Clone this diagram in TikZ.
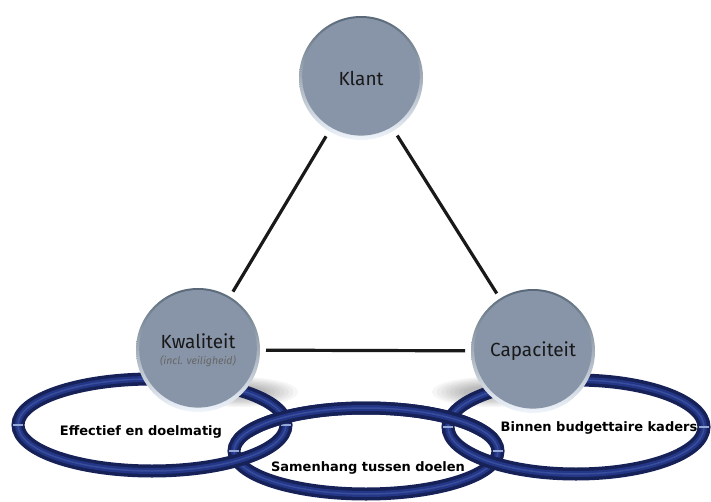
\documentclass[tikz,border=0pt]{standalone}
\usepackage{fontspec}
\setmainfont{DejaVu Sans}
\newfontfamily\ballfont{Fira Sans}
\newfontfamily\ringfont{DejaVu Sans}
\definecolor{ballface}{RGB}{136,149,168}
\definecolor{ballrimdark}{RGB}{88,104,120}
\definecolor{ballrimlight}{RGB}{240,245,252}
\definecolor{ringnavy}{RGB}{22,33,88}
\definecolor{ringblue}{RGB}{36,54,134}
\definecolor{ringhi}{RGB}{70,94,172}
\definecolor{ringtick}{RGB}{150,168,215}
\begin{document}
\begin{tikzpicture}[x=1pt,y=-1pt,
  ball/.style={circle, minimum size=124pt, inner sep=0pt, outer sep=6pt,
    top color=ballrimdark, bottom color=ballrimlight,
    path picture={\fill[ballface] ([yshift=1.2pt]path picture bounding box.center) circle (58.8pt);},
    font=\ballfont\fontsize{19}{21}\selectfont, text=black!90, align=center},
  ringlabel/.style={font=\ringfont\bfseries\fontsize{13}{15}\selectfont, text=black, inner sep=0pt},
  link/.style={line width=3.2pt, black!90},
  ringouter/.style={draw=ringnavy, line width=13pt},
  ringinner/.style={draw=ringblue, line width=6pt},
  ringlight/.style={draw=ringhi, line width=1.5pt, opacity=.6},
  ringtickmark/.style={draw=ringtick, line width=1.4pt},
  shadowpart/.style={fill=black, opacity=0.035}]
\useasboundingbox (0,0) rectangle (711,502);
\fill[white] (0,0) rectangle (711,502);

% soft floor shadows of the balls
\foreach \i in {0,...,7}{
  \fill[shadowpart] (240,392) ellipse ({58-4.5*\i} and {15-1.3*\i});
  \fill[shadowpart] (490,392) ellipse ({58-4.5*\i} and {15-1.3*\i});
}

% rings: middle first, then left and right, then the upper part of the middle again
\newcommand{\ringpath}[4]{%
  \draw[ringouter] (#1,#2) ellipse ({#3} and {#4});
  \draw[ringinner] (#1,#2) ellipse ({#3} and {#4});
  \draw[ringlight] (#1,#2) ellipse ({#3} and {#4});
  \draw[ringtickmark] ({#1-#3-5},#2) -- ({#1-#3+5},#2);
  \draw[ringtickmark] ({#1+#3-5},#2) -- ({#1+#3+5},#2);
}
\ringpath{366}{451}{132}{43}
\ringpath{152}{425}{134}{46}
\ringpath{576}{427}{128}{47}
\begin{scope}
  \clip (200,380) rectangle (540,436);
  \ringpath{366}{451}{132}{43}
\end{scope}

% ring labels
\node[ringlabel] (effectief) at (141,432) {Effectief en doelmatig};
\node[ringlabel] (samenhang) at (368,468) {Samenhang tussen doelen};
\node[ringlabel] (binnen) at (599,428) {Binnen budgettaire kaders};

% balls
\node[ball] (klant) at (361,78) {Klant};
\node[ball] (kwal) at (198,350) {Kwaliteit\\[-5pt]{\fontsize{10.5}{11}\selectfont\itshape\color{black!60}(incl. veiligheid)}};
\node[ball] (capa) at (533,351) {Capaciteit};

% connectors
\draw[link] (klant) -- (kwal);
\draw[link] (klant) -- (capa);
\draw[link] (kwal) -- (capa);
\end{tikzpicture}
\end{document}
